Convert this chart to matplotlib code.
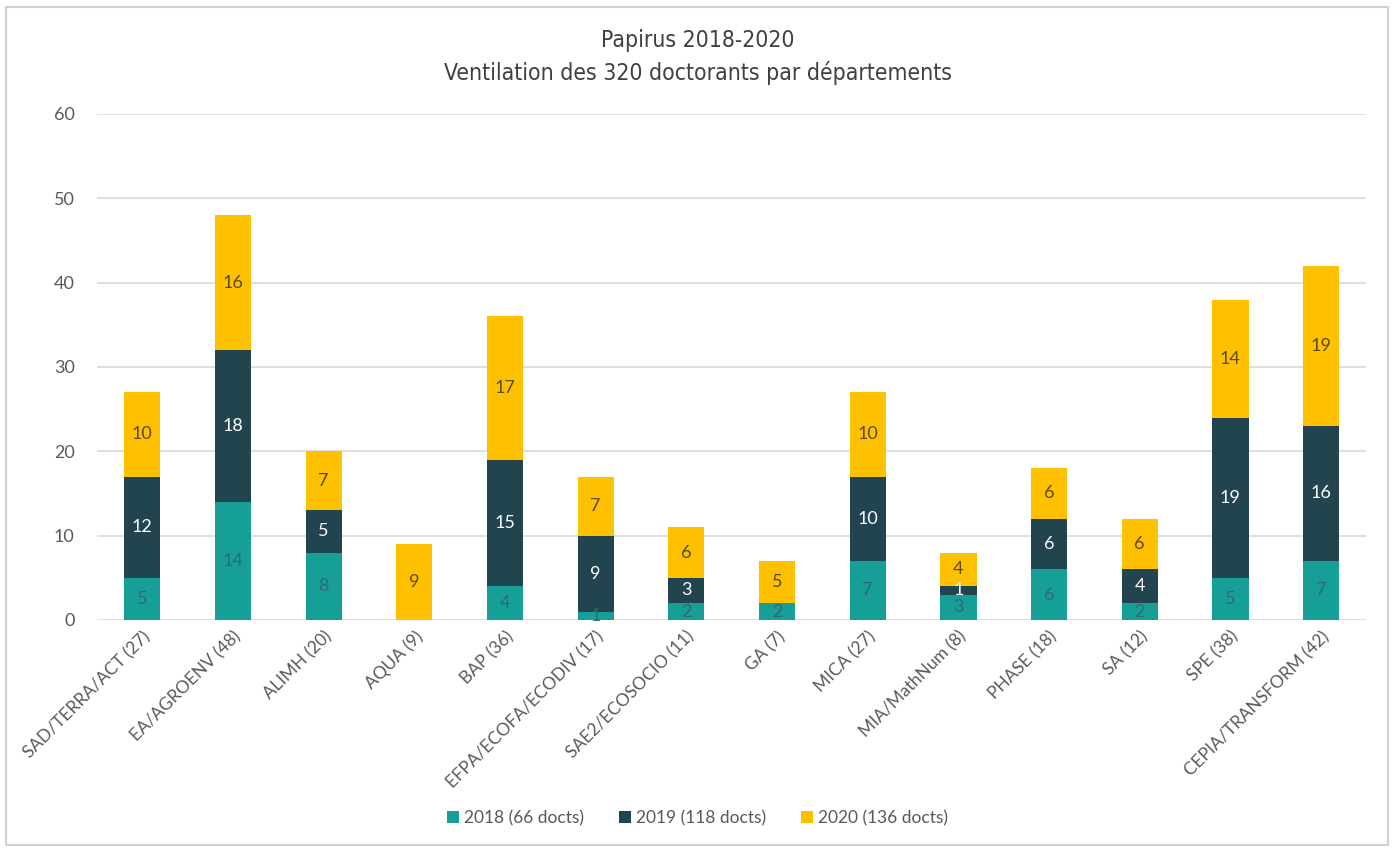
import numpy as np
import matplotlib.pyplot as plt
from matplotlib.patches import Rectangle

categories = ["SAD/TERRA/ACT (27)", "EA/AGROENV (48)", "ALIMH (20)", "AQUA (9)",
              "BAP (36)", "EFPA/ECOFA/ECODIV (17)", "SAE2/ECOSOCIO (11)", "GA (7)",
              "MICA (27)", "MIA/MathNum (8)", "PHASE (18)", "SA (12)", "SPE (38)",
              "CEPIA/TRANSFORM (42)"]
v2018 = [5, 14, 8, 0, 4, 1, 2, 2, 7, 3, 6, 2, 5, 7]
v2019 = [12, 18, 5, 0, 15, 9, 3, 0, 10, 1, 6, 4, 19, 16]
v2020 = [10, 16, 7, 9, 17, 7, 6, 5, 10, 4, 6, 6, 14, 19]
series_labels = ["2018 (66 docts)", "2019 (118 docts)", "2020 (136 docts)"]

colors = ["#169f97", "#22444f", "#ffc000"]
text_colors = ["#2f6a72", "white", "#5a4a1a"]

plt.rcParams['font.family'] = ['Lato', 'DejaVu Sans']

fig = plt.figure(figsize=(13.95, 8.48), dpi=100)
ax = fig.add_axes([0.0695, 0.2689, 0.910, 0.5967])

x = np.arange(len(categories))
bottom = np.zeros(len(categories))
for vals, col, tcol, lab in zip([v2018, v2019, v2020], colors, text_colors, series_labels):
    vals = np.array(vals)
    ax.bar(x, vals, 0.4, bottom=bottom, color=col, label=lab, zorder=3)
    for xi, b, v in zip(x, bottom, vals):
        if v > 0:
            ax.text(xi, b + v / 2, str(v), ha='center', va='center',
                    color=tcol, fontsize=13, zorder=4)
    bottom += vals

ax.set_xlim(-0.5, len(categories) - 0.5)
ax.set_ylim(0, 60)
ax.set_yticks(range(0, 61, 10))
ax.yaxis.grid(True, color='#d9d9d9', linewidth=1.2, zorder=0)
ax.set_axisbelow(True)
for s in ax.spines.values():
    s.set_visible(False)
ax.tick_params(axis='both', length=0, colors='#595959', labelsize=12.5)
ax.tick_params(axis='y', pad=16, labelsize=13)
ax.tick_params(axis='x', pad=6)
ax.set_xticks(x)
ax.set_xticklabels(categories, rotation=45, ha='right', rotation_mode='anchor')

title_kw = dict(ha='center', va='center', fontsize=16.5, color='#404040',
                family='DejaVu Sans', stretch='condensed')
fig.text(0.5, 0.952, "Papirus 2018-2020", **title_kw)
fig.text(0.5, 0.914, "Ventilation des 320 doctorants par départements", **title_kw)

fig.legend(loc='center', bbox_to_anchor=(0.5, 0.035), ncol=3, frameon=False,
           fontsize=12.5, handlelength=0.7, handleheight=0.7, handletextpad=0.3,
           columnspacing=2.0, labelcolor='#595959')

fig.patches.append(Rectangle((0.004, 0.004), 0.991, 0.988, transform=fig.transFigure,
                             fill=False, edgecolor='#d0d0d0', linewidth=1.5))

plt.savefig("out.png", dpi=100)
